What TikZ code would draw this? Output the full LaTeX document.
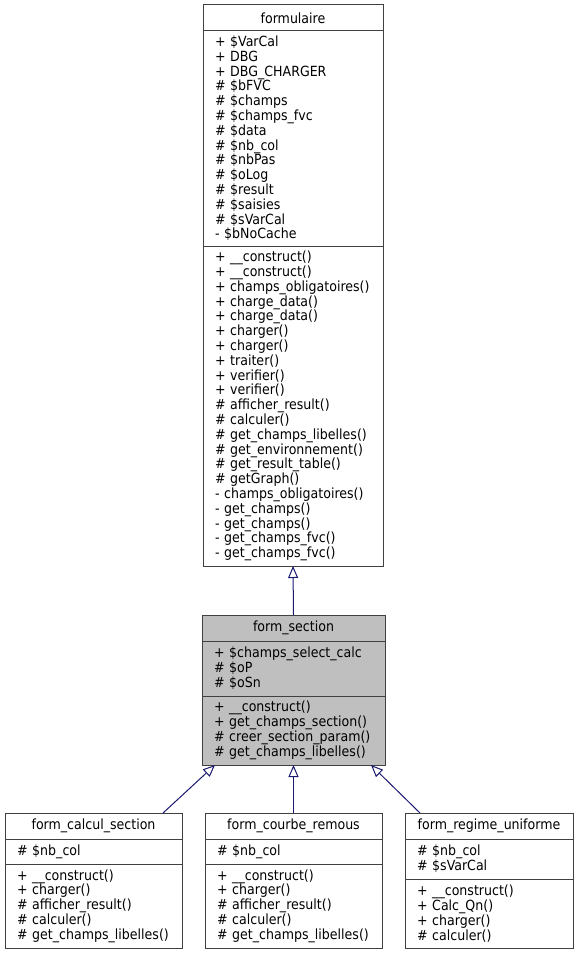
\documentclass[tikz,border=0pt]{standalone}
\usepackage{fontspec}
\setmainfont{DejaVu Sans Condensed}
\usetikzlibrary{arrows.meta}
\definecolor{ink}{HTML}{000000}
\definecolor{boxline}{HTML}{404040}
\definecolor{edgeblue}{HTML}{191970}
\definecolor{curfill}{HTML}{BFBFBF}

\begin{document}
\begin{tikzpicture}[
  x=1pt, y=-1pt, font=\fontsize{14}{14.8}\selectfont,
  part/.style={draw=boxline, fill=white, line width=1pt, anchor=north west, outer sep=0pt,
    inner xsep=12pt, inner ysep=0pt, align=left, text=ink},
  title/.style={part, inner xsep=4pt, align=center},
  cur/.style={fill=curfill},
  inherit/.style={draw=edgeblue, line width=1pt, -{Triangle[open, fill=white, length=12pt, width=10pt]}}
]
\useasboundingbox (0,0) rectangle (579,955);

% base class
\node[title, text width=172pt, minimum height=26pt] (formulaire) at (203,5) {formulaire};
\node[part, text width=156pt, minimum height=215pt] (formulaire-attr) at (formulaire.south west)
  {+ \$VarCal\\ + DBG\\ + DBG\_CHARGER\\ \# \$bFVC\\ \# \$champs\\ \# \$champs\_fvc\\ \# \$data\\
   \# \$nb\_col\\ \# \$nbPas\\ \# \$oLog\\ \# \$result\\ \# \$saisies\\ \# \$sVarCal\\ - \$bNoCache};
\node[part, text width=156pt, minimum height=320pt] (formulaire-ops) at (formulaire-attr.south west)
  {+ \_\_construct()\\ + \_\_construct()\\ + champs\_obligatoires()\\ + charge\_data()\\ + charge\_data()\\
   + charger()\\ + charger()\\ + traiter()\\ + verifier()\\ + verifier()\\ \# afficher\_result()\\
   \# calculer()\\ \# get\_champs\_libelles()\\ \# get\_environnement()\\ \# get\_result\_table()\\
   \# getGraph()\\ - champs\_obligatoires()\\ - get\_champs()\\ - get\_champs()\\ - get\_champs\_fvc()\\
   - get\_champs\_fvc()};

% current class
\node[title, cur, text width=175pt, minimum height=26pt] (section) at (202,615) {form\_section};
\node[part, cur, text width=159pt, minimum height=55pt] (section-attr) at (section.south west)
  {+ \$champs\_select\_calc\\ \# \$oP\\ \# \$oSn};
\node[part, cur, text width=159pt, minimum height=69pt] (section-ops) at (section-attr.south west)
  {+ \_\_construct()\\ + get\_champs\_section()\\ \# creer\_section\_param()\\ \# get\_champs\_libelles()};

% derived classes
\node[title, text width=169pt, minimum height=26pt] (calcul) at (5,813) {form\_calcul\_section};
\node[part, text width=153pt, minimum height=25pt] (calcul-attr) at (calcul.south west) {\# \$nb\_col};
\node[part, text width=153pt, minimum height=84pt] (calcul-ops) at (calcul-attr.south west)
  {+ \_\_construct()\\ + charger()\\ \# afficher\_result()\\ \# calculer()\\ \# get\_champs\_libelles()};

\node[title, text width=169pt, minimum height=26pt] (courbe) at (205,813) {form\_courbe\_remous};
\node[part, text width=153pt, minimum height=25pt] (courbe-attr) at (courbe.south west) {\# \$nb\_col};
\node[part, text width=153pt, minimum height=84pt] (courbe-ops) at (courbe-attr.south west)
  {+ \_\_construct()\\ + charger()\\ \# afficher\_result()\\ \# calculer()\\ \# get\_champs\_libelles()};

\node[title, text width=160pt, minimum height=26pt] (regime) at (405,813) {form\_regime\_uniforme};
\node[part, text width=144pt, minimum height=40pt] (regime-attr) at (regime.south west) {\# \$nb\_col\\ \# \$sVarCal};
\node[part, text width=144pt, minimum height=69pt] (regime-ops) at (regime-attr.south west)
  {+ \_\_construct()\\ + Calc\_Qn()\\ + charger()\\ \# calculer()};

% inheritance
\draw[inherit] (section.north) -- (formulaire-ops.south);
\draw[inherit] ([xshift=-19pt]calcul.north east) -- ([xshift=13pt]section-ops.south west);
\draw[inherit] (courbe.north) -- (section-ops.south);
\draw[inherit] ([xshift=15pt]regime.north west) -- ([xshift=-14pt]section-ops.south east);
\end{tikzpicture}
\end{document}
